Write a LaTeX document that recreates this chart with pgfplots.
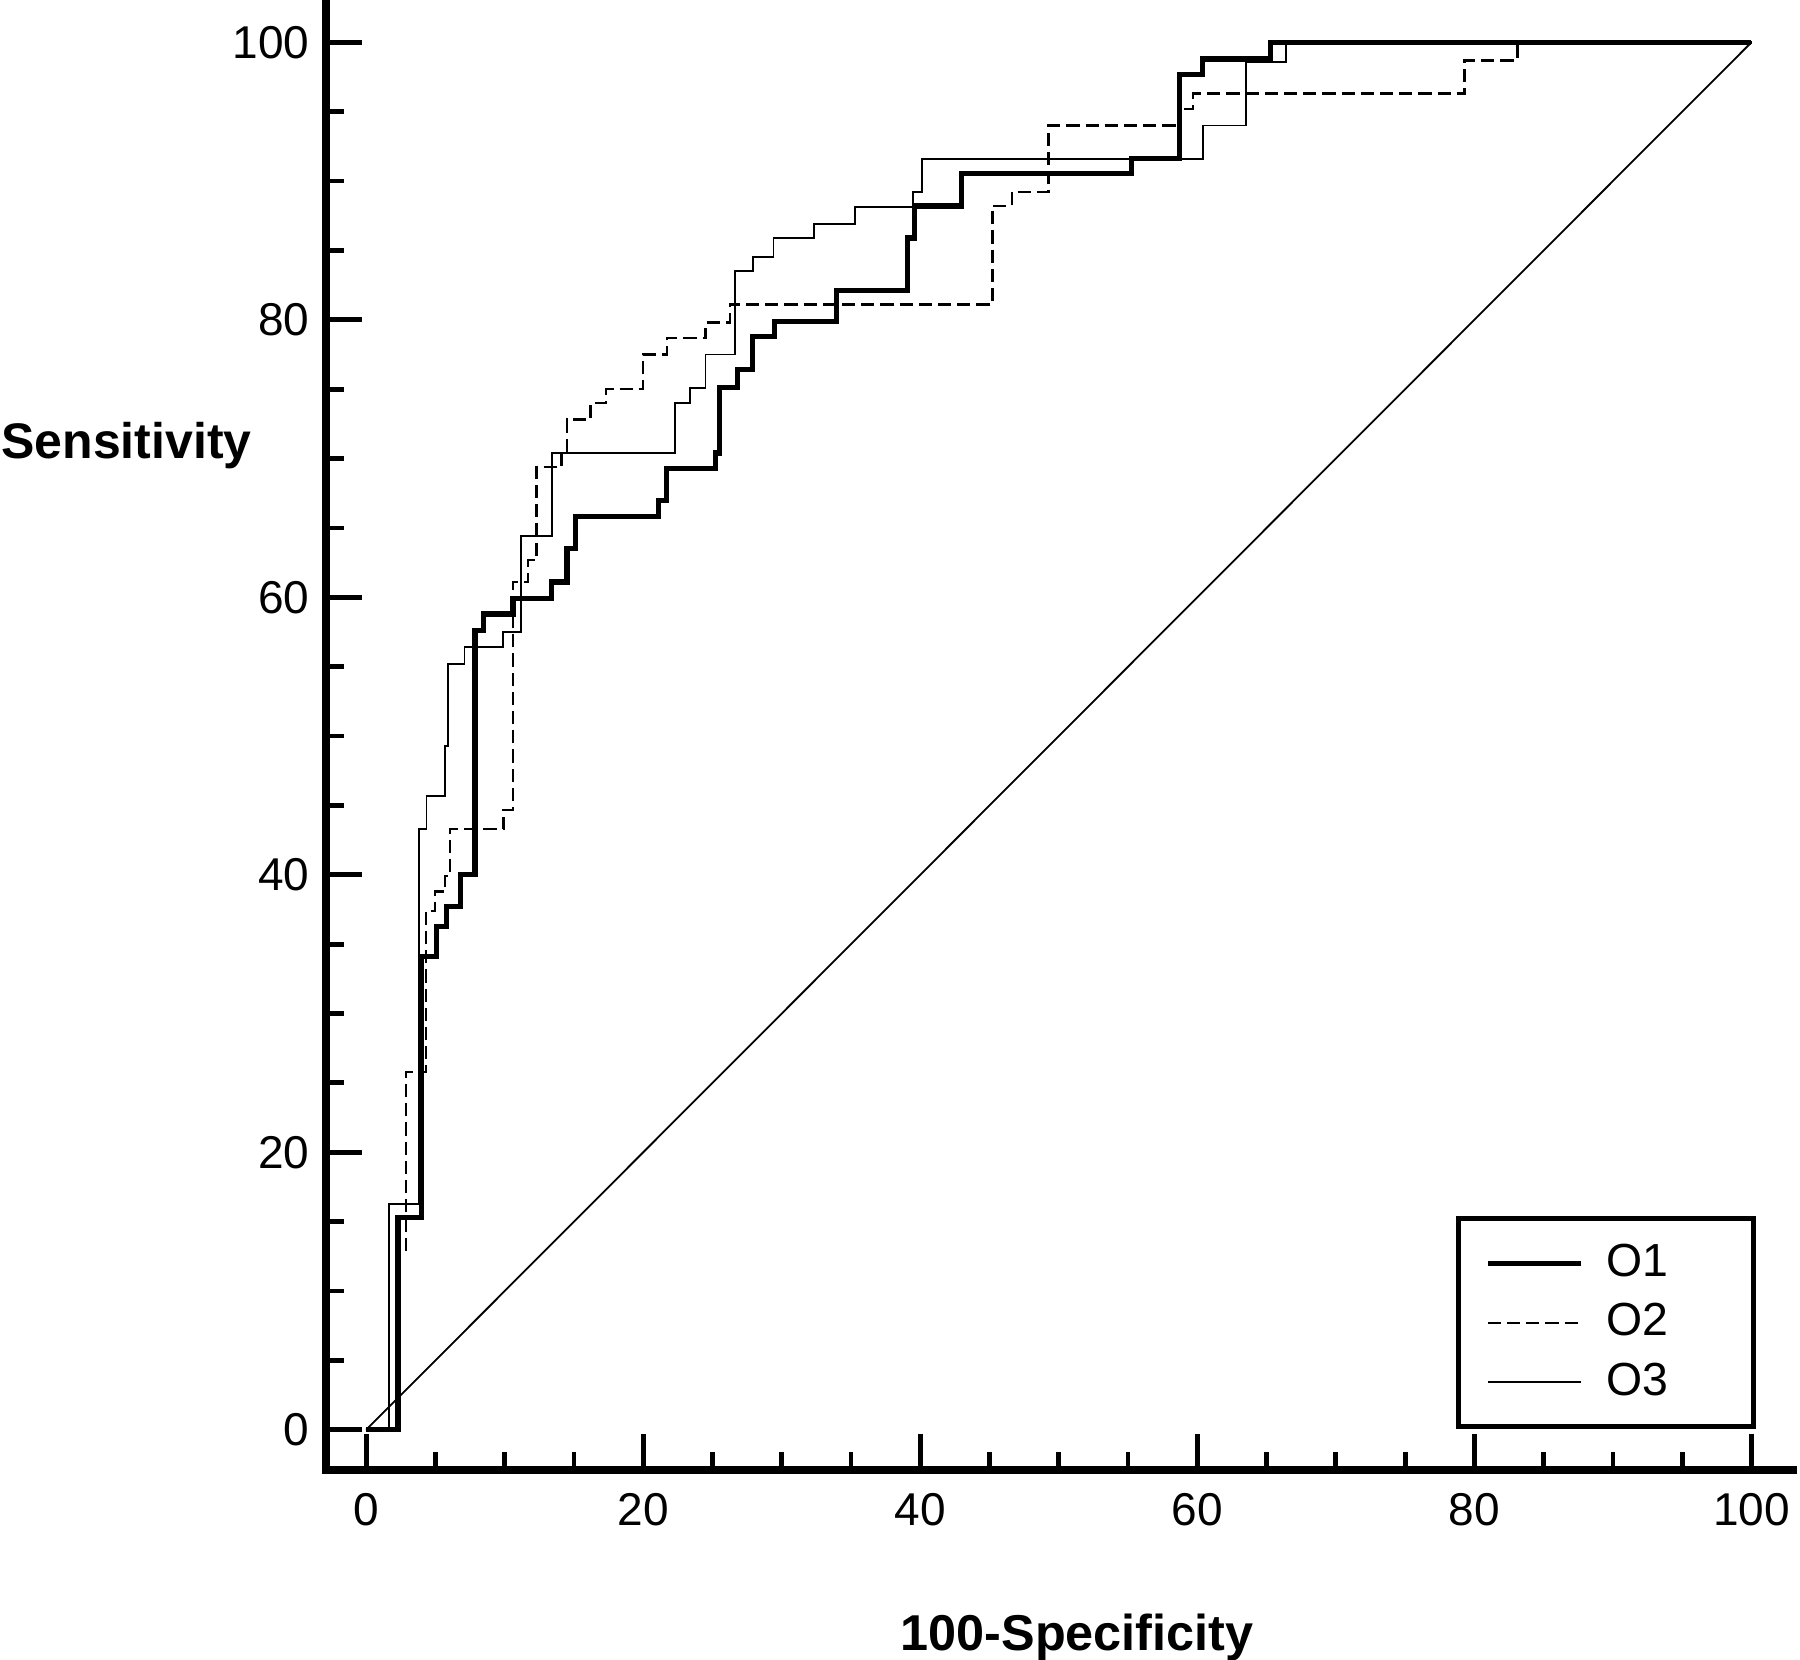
\documentclass[border=0pt]{standalone}
\usepackage{fontspec}
\setmainfont{Liberation Sans}
\usepackage{pgfplots}
\pgfplotsset{compat=1.18}
\begin{document}
\begin{tikzpicture}
\useasboundingbox (-81.5pt,-47.5pt) rectangle (368.5pt,367.5pt);
\begin{axis}[
  at={(0pt,0pt)}, anchor=south west,
  scale only axis, width=366.75pt, height=367.5pt,
  xmin=-2.9, xmax=103, ymin=-2.9, ymax=103.05,
  axis lines*=left,
  axis line style={line width=2.1pt, line cap=rect, -},
  xtick={0,20,...,100}, ytick={0,20,...,100},
  minor xtick={5,10,15,25,30,35,45,50,55,65,70,75,85,90,95},
  minor ytick={5,10,15,25,30,35,45,50,55,65,70,75,85,90,95},
  tick align=inside,
  major tick length=9pt, minor tick length=4.4pt,
  every tick/.style={black, line width=1.2pt},
  tick label style={font=\fontsize{11.5}{13}\selectfont},
  /pgf/number format/assume math mode=true,
  xticklabel style={yshift=-2.3pt},
  yticklabel style={xshift=-0.6pt},
  every axis x label/.style={at={(rel axis cs:0.512,0)}, anchor=center, yshift=-41.75pt, inner sep=0pt, font=\bfseries\fontsize{12.6}{14}\selectfont},
  every axis y label/.style={at={(rel axis cs:0,0.6884)}, anchor=base east, xshift=-18.4pt, inner sep=0pt, font=\bfseries\fontsize{12.5}{14}\selectfont},
  xlabel={100-Specificity}, ylabel={Sensitivity},
  no markers,
  legend style={at={(axis cs:100.3,0.05)}, anchor=south east, draw=black, fill=white, line width=1.25pt,
    inner xsep=6.6pt, inner ysep=6.3pt, font=\fontsize{11.6}{13}\selectfont,
    nodes={inner sep=0pt}, column sep=5.75pt, row sep=5.25pt},
  legend cell align=left,
  legend image code/.code={\draw[#1] (0pt,0pt) -- (23.25pt,0pt);},
]
\addplot[black, line width=0.45pt, forget plot] coordinates {(0,0) (100,100)};

\addplot[const plot, black, line width=1.3pt] coordinates {
(0,0) (2.3,15.3) (4.0,34.1) (5.1,36.3) (5.8,37.7) (6.8,40.0) (7.85,57.6) (8.45,58.8)
(10.6,59.9) (13.4,61.1) (14.5,63.5) (15.1,65.8) (21.1,67.0) (21.7,69.3) (25.2,70.4)
(25.5,75.1) (26.8,76.4) (27.9,78.8) (29.5,79.9) (33.95,82.1) (39.1,85.9) (39.6,88.2)
(42.95,90.55) (55.25,91.6) (58.7,97.7) (60.4,98.8) (65.3,100) (100,100)};
\addlegendentry{O1\hspace*{14.6pt}}

\addplot[const plot, black, line width=0.6pt, dash pattern=on 3.3pt off 1.5pt] coordinates {
(2.87,12.9) (2.87,25.8) (4.3,37.4) (4.96,38.8) (5.69,39.9) (6.05,43.3) (9.9,44.65)
(10.6,61.1) (11.7,62.7) (12.3,69.4) (14.1,70.4) (14.5,72.8) (16.2,74.0) (17.3,75.0)
(20.0,77.5) (21.7,78.7) (24.5,79.8) (26.25,81.1) (45.2,88.2) (46.6,89.2) (49.25,94.0)
(58.6,95.2) (59.7,96.3) (79.3,98.7) (83.1,100) (100,100)};
\addlegendentry{O2}

\addplot[const plot, black, line width=0.45pt] coordinates {
(0,0) (1.67,16.3) (3.8,43.3) (4.36,45.7) (5.69,49.3) (5.93,55.2) (7.1,56.4) (9.9,57.5)
(11.2,64.4) (13.4,70.4) (22.3,74.0) (23.4,75.1) (24.5,77.5) (26.6,83.5) (27.9,84.5)
(29.4,85.9) (32.3,86.9) (35.3,88.15) (39.5,89.2) (40.15,91.6) (60.4,94.0) (63.5,98.6)
(66.4,100) (100,100)};
\addlegendentry{O3}
\end{axis}
\end{tikzpicture}
\end{document}
